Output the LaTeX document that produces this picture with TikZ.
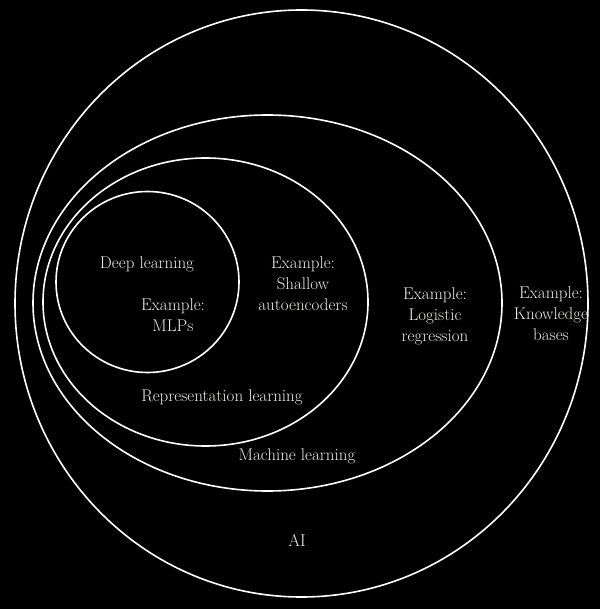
\documentclass[tikz,border=0pt]{standalone}
\usepackage{fontspec}
\definecolor{txt}{RGB}{240,238,228}
\begin{document}
\begin{tikzpicture}[x=1pt,y=-1pt,
  ring/.style={draw=white,line width=1.6pt},
  lbl/.style={text=txt,font=\fontsize{17}{21}\selectfont,align=center,inner sep=0pt,anchor=base}]
\fill[black] (0,0) rectangle (600,609);
\useasboundingbox (0,0) rectangle (600,609);
\draw[ring] (301.5,303.5) ellipse [x radius=286.5, y radius=293.5];
\draw[ring] (267.5,303) ellipse [x radius=234.5, y radius=188];
\draw[ring] (205.5,302) ellipse [x radius=162.5, y radius=144];
\draw[ring] (147.5,282) ellipse [x radius=91.5, y radius=90.5];
\node[lbl] (dl) at (147,268) {Deep learning};
\node[lbl] (mlp) at (173,331) {Example:\\MLPs};
\node[lbl] (sae) at (303,310) {Example:\\Shallow\\autoencoders};
\node[lbl] (rl) at (222,401) {Representation learning};
\node[lbl] (ml) at (297,460) {Machine learning};
\node[lbl] (ai) at (297,546) {AI};
\node[lbl] (lr) at (435,341) {Example:\\Logistic\\regression};
\node[lbl] (kb) at (551,340) {Example:\\Knowledge\\bases};
\end{tikzpicture}
\end{document}
